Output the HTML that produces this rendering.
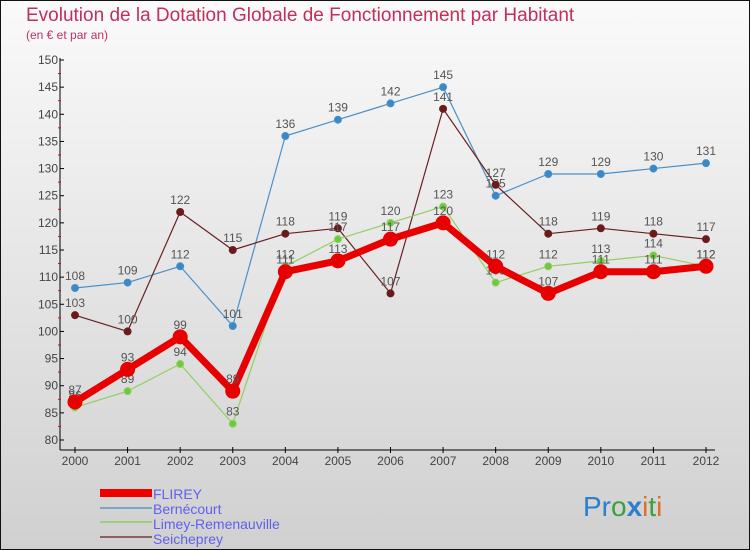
<!DOCTYPE html>
<html><head><meta charset="utf-8"><style>
body{margin:0;width:750px;height:550px;overflow:hidden;font-family:"Liberation Sans",sans-serif}
svg{display:block}
</style></head><body>
<svg id="c" width="750" height="550" xmlns="http://www.w3.org/2000/svg">
<defs><linearGradient id="bg" x1="0" y1="0" x2="0" y2="1"><stop offset="0" stop-color="#fafafa"/><stop offset="1" stop-color="#d0d0d0"/></linearGradient></defs>
<rect x="0.5" y="0.5" width="749" height="549" fill="url(#bg)" stroke="#111"/>
<text x="26" y="21" font-size="19" fill="#c0305a">Evolution de la Dotation Globale de Fonctionnement par Habitant</text>
<text x="26" y="39" font-size="12" fill="#c0305a">(en € et par an)</text>
<g id="axes"></g><g id="series"></g>
<g>
<rect x="100" y="489" width="52" height="8" fill="#e00"/>
<line x1="100" y1="508" x2="152" y2="508" stroke="#7aa6c8" stroke-width="2"/>
<line x1="100" y1="522" x2="152" y2="522" stroke="#9ed07a" stroke-width="2"/>
<line x1="100" y1="537" x2="152" y2="537" stroke="#8a6060" stroke-width="2"/>
<g font-size="14" fill="#6060ee">
<text x="153" y="499">FLIREY</text>
<text x="153" y="514">Bernécourt</text>
<text x="153" y="529">Limey-Remenauville</text>
<text x="153" y="544">Seicheprey</text>
</g></g>
<text x="583" y="516" font-size="28"><tspan fill="#2a7fd0">Pr</tspan><tspan fill="#3aa040">o</tspan><tspan fill="#2a7fd0" font-weight="bold">x</tspan><tspan fill="#e07020">i</tspan><tspan fill="#3aa040">t</tspan><tspan fill="#e07020">i</tspan></text>
</svg>
<script>
const years=[2000,2001,2002,2003,2004,2005,2006,2007,2008,2009,2010,2011,2012];
const yTicks=[80,85,90,95,100,105,110,115,120,125,130,135,140,145,150];
const flirey=[87,93,99,89,111,113,117,120,112,107,111,111,112];
const bernecourt=[108,109,112,101,136,139,142,145,125,129,129,130,131];
const limey=[86,89,94,83,112,117,120,123,109,112,113,114,112];
const seicheprey=[103,100,122,115,118,119,107,141,127,118,119,118,117];
const NS="http://www.w3.org/2000/svg";
function X(i){return 75+i*(706-75)/12;}
function Y(v){return 440-(v-80)*380/70;}
function mk(t,a,p){const e=document.createElementNS(NS,t);for(const k in a)e.setAttribute(k,a[k]);p.appendChild(e);return e;}
const ax=document.getElementById('axes');
let yl=mk('line',{x1:60,y1:58,x2:60,y2:450,stroke:'#000'},ax);


let xl=mk('line',{x1:60,y1:450,x2:715,y2:450,stroke:'#000'},ax);


yTicks.forEach(v=>{
 mk('line',{x1:60,y1:Y(v),x2:64,y2:Y(v),stroke:'#000'},ax);
 if(v<150)mk('line',{x1:58,y1:Y(v+2.5),x2:61,y2:Y(v+2.5),stroke:'#e00'},ax);
 const t=mk('text',{x:58,y:Y(v)+4,'font-size':12,fill:'#444','text-anchor':'end'},ax);t.textContent=v;
 
 
});
years.forEach((y,i)=>{
 mk('line',{x1:X(i),y1:447,x2:X(i),y2:453,stroke:'#000'},ax);
 const t=mk('text',{x:X(i),y:465,'font-size':12,fill:'#444','text-anchor':'middle'},ax);t.textContent=y;
 
 
});
const sg=document.getElementById('series');
function series(d,name,col,w,r,fill){
 const g=mk('g',{},sg);
 
 
 mk('polyline',{points:d.map((v,i)=>X(i)+','+Y(v)).join(' '),fill:'none',stroke:col,'stroke-width':w,'stroke-linejoin':'round'},g);
 d.forEach((v,i)=>{
  const c=mk('circle',{cx:X(i),cy:Y(v),r:r,fill:fill,stroke:col,'stroke-width':1},g);
  
  
  const t=mk('text',{x:X(i),y:Y(v)-8,'font-size':12,fill:'#555','text-anchor':'middle'},g);t.textContent=v;
 });
}
series(bernecourt,'bernecourt','#4a90c8',1.2,3.5,'#3a88c8');
series(seicheprey,'seicheprey','#6a2020',1.2,3.5,'#6a1a1a');
series(limey,'limey','#90d060',1.2,3.5,'#70c840');
series(flirey,'flirey','#e80000',7,7,'#e80000');
</script>
</body></html>
